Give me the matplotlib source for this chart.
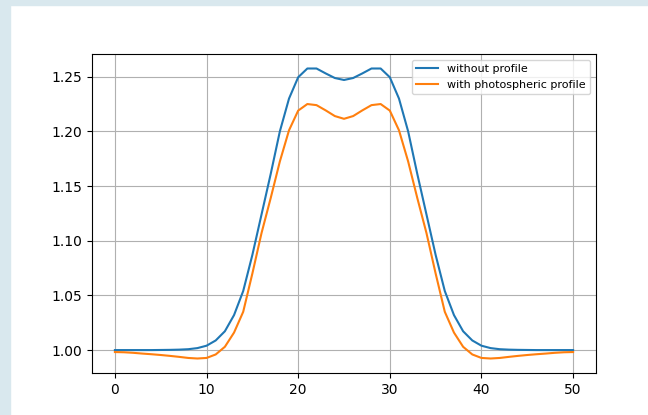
import matplotlib
matplotlib.use('Agg')
import matplotlib.pyplot as plt
from matplotlib.patches import Rectangle

x = list(range(51))

without_profile = [
    1.0000, 1.0000, 1.0000, 1.0000, 1.0000, 1.0001, 1.0002, 1.0004, 1.0008, 1.0018,
    1.0040, 1.0088, 1.0172, 1.0320, 1.0540, 1.0870, 1.1240, 1.1610, 1.2000, 1.2300,
    1.2495, 1.2575, 1.2575, 1.2530, 1.2488, 1.2470, 1.2488, 1.2530, 1.2575, 1.2575,
    1.2495, 1.2300, 1.2000, 1.1610, 1.1240, 1.0870, 1.0540, 1.0320, 1.0172, 1.0088,
    1.0040, 1.0018, 1.0008, 1.0004, 1.0002, 1.0001, 1.0000, 1.0000, 1.0000, 1.0000,
    1.0000,
]

with_photo = [
    0.9982, 0.9980, 0.9975, 0.9968, 0.9962, 0.9955, 0.9947, 0.9938, 0.9928, 0.9923,
    0.9928, 0.9960, 1.0030, 1.0160, 1.0350, 1.0700, 1.1070, 1.1390, 1.1725, 1.2010,
    1.2190, 1.2250, 1.2240, 1.2192, 1.2140, 1.2115, 1.2140, 1.2192, 1.2240, 1.2250,
    1.2190, 1.2010, 1.1725, 1.1390, 1.1070, 1.0700, 1.0350, 1.0160, 1.0030, 0.9960,
    0.9928, 0.9923, 0.9928, 0.9938, 0.9947, 0.9955, 0.9962, 0.9968, 0.9975, 0.9980,
    0.9982,
]

W, H = 648, 415
fig = plt.figure(figsize=(W / 100, H / 100), dpi=100)

# screenshot frame: light strip on the left and the top
border = '#d9e8ee'
fig.patches.append(Rectangle((0, 0), 10 / W, 1, transform=fig.transFigure,
                             color=border, zorder=-1))
fig.patches.append(Rectangle((0, 1 - 5 / H), 1, 5 / H, transform=fig.transFigure,
                             color=border, zorder=-1))

ax = fig.add_axes([92 / W, (H - 373) / H, (596 - 92) / W, (373 - 54) / H])
ax.plot(x, without_profile, label='without profile')
ax.plot(x, with_photo, label='with photospheric profile')
ax.grid(True)
ax.legend(loc='upper right', fontsize=8)

fig.savefig('out.png', dpi=100)
